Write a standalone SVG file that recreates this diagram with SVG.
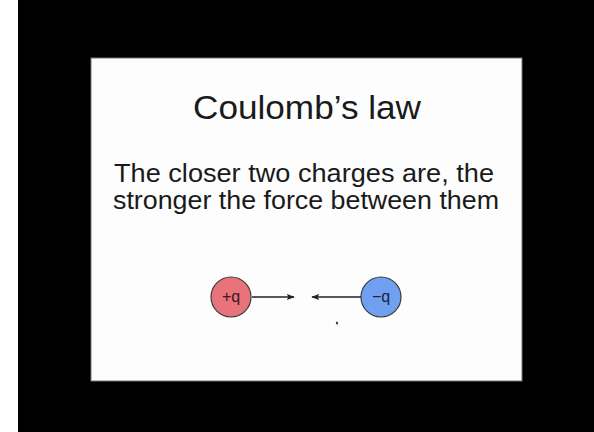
<svg xmlns="http://www.w3.org/2000/svg" width="594" height="432" viewBox="0 0 594 432">
  <defs>
    <style>
      .t { font-family: "Liberation Sans", Arial, sans-serif; fill: #1a1a1a; }
      .lbl { font-family: "Liberation Sans", Arial, sans-serif; font-size: 16px; text-anchor: middle; }
      .conn { stroke: #222; stroke-width: 1.3; fill: none; }
    </style>
    <marker id="ah" viewBox="0 0 10 10" refX="9" refY="5" markerWidth="8" markerHeight="8" orient="auto" markerUnits="userSpaceOnUse">
      <path d="M0,1 L10,5 L0,9 L2,5 Z" fill="#222"/>
    </marker>
  </defs>
  <rect x="0" y="0" width="594" height="432" fill="#ffffff"/>
  <rect x="18" y="0" width="576" height="432" fill="#000000"/>
  <rect id="slide" x="91" y="58" width="431" height="323" fill="#fdfdfd" stroke="#777" stroke-width="1"/>
  <g id="title">
    <text class="t" x="193" y="119" font-size="33" textLength="228" lengthAdjust="spacingAndGlyphs">Coulomb’s law</text>
  </g>
  <g id="body">
    <text class="t" x="114" y="182" font-size="25" textLength="380" lengthAdjust="spacingAndGlyphs">The closer two charges are, the</text>
    <text class="t" x="113" y="209" font-size="25" textLength="386" lengthAdjust="spacingAndGlyphs">stronger the force between them</text>
  </g>
  <g id="connectors">
    <line class="conn" x1="252" y1="297" x2="294" y2="297" marker-end="url(#ah)"/>
    <line class="conn" x1="361" y1="297" x2="312" y2="297" marker-end="url(#ah)"/>
  </g>
  <g id="plus-q">
    <circle cx="231" cy="297" r="20" fill="#e8737a" stroke="#3a3a3a" stroke-width="1.2"/>
    <text class="lbl" x="231" y="302" fill="#3a1a1a">+q</text>
  </g>
  <g id="minus-q">
    <circle cx="381" cy="297" r="20" fill="#72a0f0" stroke="#3a3a3a" stroke-width="1.2"/>
    <text class="lbl" x="381" y="302" fill="#1a2040">−q</text>
  </g>
  <ellipse cx="337" cy="323" rx="1.2" ry="1.6" fill="#444"/>
</svg>
